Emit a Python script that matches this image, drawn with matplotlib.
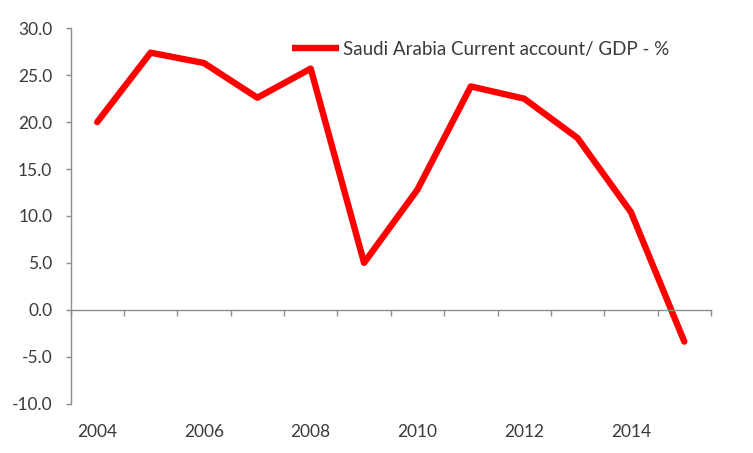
import matplotlib
matplotlib.use("Agg")
import matplotlib.pyplot as plt
import numpy as np

years = [2004, 2005, 2006, 2007, 2008, 2009, 2010, 2011, 2012, 2013, 2014, 2015]
values = [20.0, 27.4, 26.3, 22.6, 25.7, 5.0, 12.8, 23.8, 22.5, 18.3, 10.4, -3.4]
series_name = "Saudi Arabia Current account/ GDP - %"
y_ticks = [-10, -5, 0, 5, 10, 15, 20, 25, 30]
year_labels = [2004, 2006, 2008, 2010, 2012, 2014]

plt.rcParams['font.family'] = ['Lato', 'DejaVu Sans']
TXT = '#3a3a3a'
AX = '#8c8c8c'

fig = plt.figure(figsize=(7.53, 4.53), dpi=100)
ax = fig.add_axes([70.5/753, 1-403.5/453, (711-70.5)/753, (403.5-28.3)/453])

x = np.arange(len(years))
ax.plot(x, values, color='#ff0000', lw=4.6, solid_joinstyle='round', solid_capstyle='round',
        label=series_name)

ax.set_xlim(-0.5, len(years) - 0.5)
ax.set_ylim(-10, 30)
ax.set_yticks(y_ticks)
ax.set_yticklabels([f"{v:.1f}" for v in y_ticks], fontsize=12.5, color=TXT)
ax.tick_params(axis='y', direction='out', length=3.6, width=1, color=AX, pad=9.5)

for s in ['top', 'right']:
    ax.spines[s].set_visible(False)
ax.spines['left'].set_color(AX)
ax.spines['left'].set_linewidth(1)
ax.spines['bottom'].set_position(('data', 0))
ax.spines['bottom'].set_color(AX)
ax.spines['bottom'].set_linewidth(1)
ax.set_xticks(np.arange(-0.5, len(years)))
ax.tick_params(axis='x', direction='out', length=4, width=1, color=AX, labelbottom=False)

sec = ax.secondary_xaxis(0)
sec.spines['bottom'].set_visible(False)
pos = [years.index(y) for y in year_labels]
sec.set_xticks(pos)
sec.set_xticklabels([str(y) for y in year_labels], fontsize=12.5, color=TXT)
sec.tick_params(axis='x', length=0, pad=15)

leg = fig.legend(loc='center left', bbox_to_anchor=(292/753, 1-49/453), frameon=False,
                 fontsize=13.5, handlelength=2.5, handletextpad=0.2, borderpad=0, borderaxespad=0)
for t in leg.get_texts():
    t.set_color(TXT)
for h in leg.get_lines():
    h.set_solid_capstyle('butt')

fig.savefig('out.png', dpi=100)
